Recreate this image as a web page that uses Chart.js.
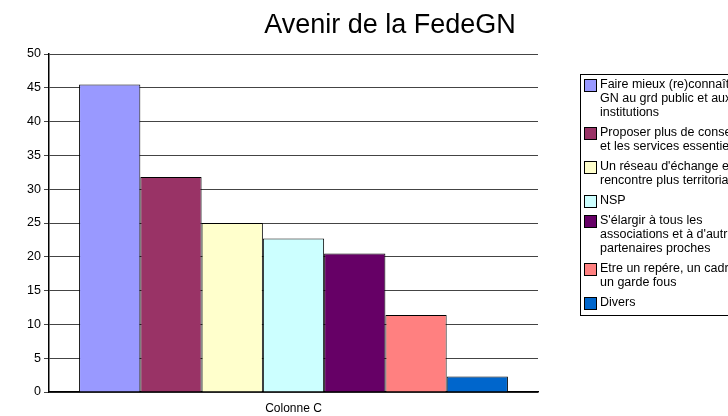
<!DOCTYPE html>
<html>
<head>
<meta charset="utf-8">
<script src="https://cdn.jsdelivr.net/npm/chart.js@4/dist/chart.umd.min.js"></script>
<style>
    html, body { margin: 0; padding: 0; background: #fff; }
    #wrap { width: 728px; height: 416px; }
</style>
</head>
<body>
<div id="wrap"><canvas id="chart" width="728" height="416"></canvas></div>
<script>
// Chart data
const chartTitle = 'Avenir de la FedeGN';
const categories = ['Colonne C'];
const seriesLabels = [
    ['Faire mieux (re)connaître la Fede', 'GN au grd public et aux', 'institutions'],
    ['Proposer plus de conseils', 'et les services essentiels'],
    ["Un réseau d'échange et de", 'rencontre plus territorial'],
    ['NSP'],
    ["S'élargir à tous les", "associations et à d'autres", 'partenaires proches'],
    ['Etre un repére, un cadre,', 'un garde fous'],
    ['Divers']
];
const seriesValues = [45.5, 31.8, 25.0, 22.7, 20.5, 11.4, 2.3];
const yMin = 0;
const yMax = 50;
const yStep = 5;

// Excel-ish palette
const seriesColors = ['#9999ff', '#993366', '#ffffcc', '#ccffff', '#660066', '#ff8080', '#0066cc'];

const fontFamily = "'Liberation Sans', Arial, sans-serif";

// Draws the title and the boxed legend on the right (legend is clipped by the canvas edge like the original)
const titleLegendPlugin = {
    id: 'titleLegend',
    afterDraw(chart) {
        const ctx = chart.ctx;
        ctx.save();

        // title
        ctx.fillStyle = '#000';
        ctx.font = '27px ' + fontFamily;
        ctx.textAlign = 'center';
        ctx.textBaseline = 'alphabetic';
        ctx.fillText(chartTitle, 390, 33);

        // legend box
        ctx.strokeStyle = '#000';
        ctx.lineWidth = 1;
        ctx.strokeRect(580.5, 74.5, 200, 241);

        ctx.font = '12.5px ' + fontFamily;
        ctx.textAlign = 'left';
        ctx.textBaseline = 'middle';
        let y = 85;
        chart.data.datasets.forEach((ds, i) => {
            const lines = seriesLabels[i];
            ctx.fillStyle = ds.backgroundColor;
            ctx.fillRect(584.5, y - 5.5, 12, 12);
            ctx.strokeRect(584.5, y - 5.5, 12, 12);
            ctx.fillStyle = '#000';
            lines.forEach((line, j) => {
                ctx.fillText(line, 600, y + j * 14);
            });
            y += lines.length * 14 + 6;
        });

        ctx.restore();
    }
};

const ctx = document.getElementById('chart').getContext('2d');
new Chart(ctx, {
    type: 'bar',
    data: {
        labels: categories,
        datasets: seriesValues.map((v, i) => ({
            label: seriesLabels[i].join(' '),
            data: [v],
            backgroundColor: seriesColors[i],
            borderColor: '#000',
            borderWidth: 1,
            barPercentage: 1,
            categoryPercentage: 0.877
        }))
    },
    options: {
        responsive: false,
        animation: false,
        layout: {
            padding: { top: 54, right: 190, bottom: 0, left: 0 }
        },
        plugins: {
            legend: { display: false },
            title: { display: false },
            tooltip: { enabled: false }
        },
        scales: {
            x: {
                grid: { display: true, drawOnChartArea: false, drawTicks: false },
                border: { display: true, color: '#000', width: 1.5 },
                ticks: {
                    color: '#000',
                    padding: 9,
                    font: { family: fontFamily, size: 12 }
                },
                afterFit(scale) { scale.height = 24; }
            },
            y: {
                min: yMin,
                max: yMax,
                grid: { color: '#444', tickColor: '#444', tickLength: 5 },
                border: { display: true, color: '#000', width: 1.5 },
                ticks: {
                    stepSize: yStep,
                    color: '#000',
                    padding: 3,
                    font: { family: fontFamily, size: 12.5 }
                },
                afterFit(scale) { scale.width = 49; }
            }
        }
    },
    plugins: [titleLegendPlugin]
});
</script>
</body>
</html>
